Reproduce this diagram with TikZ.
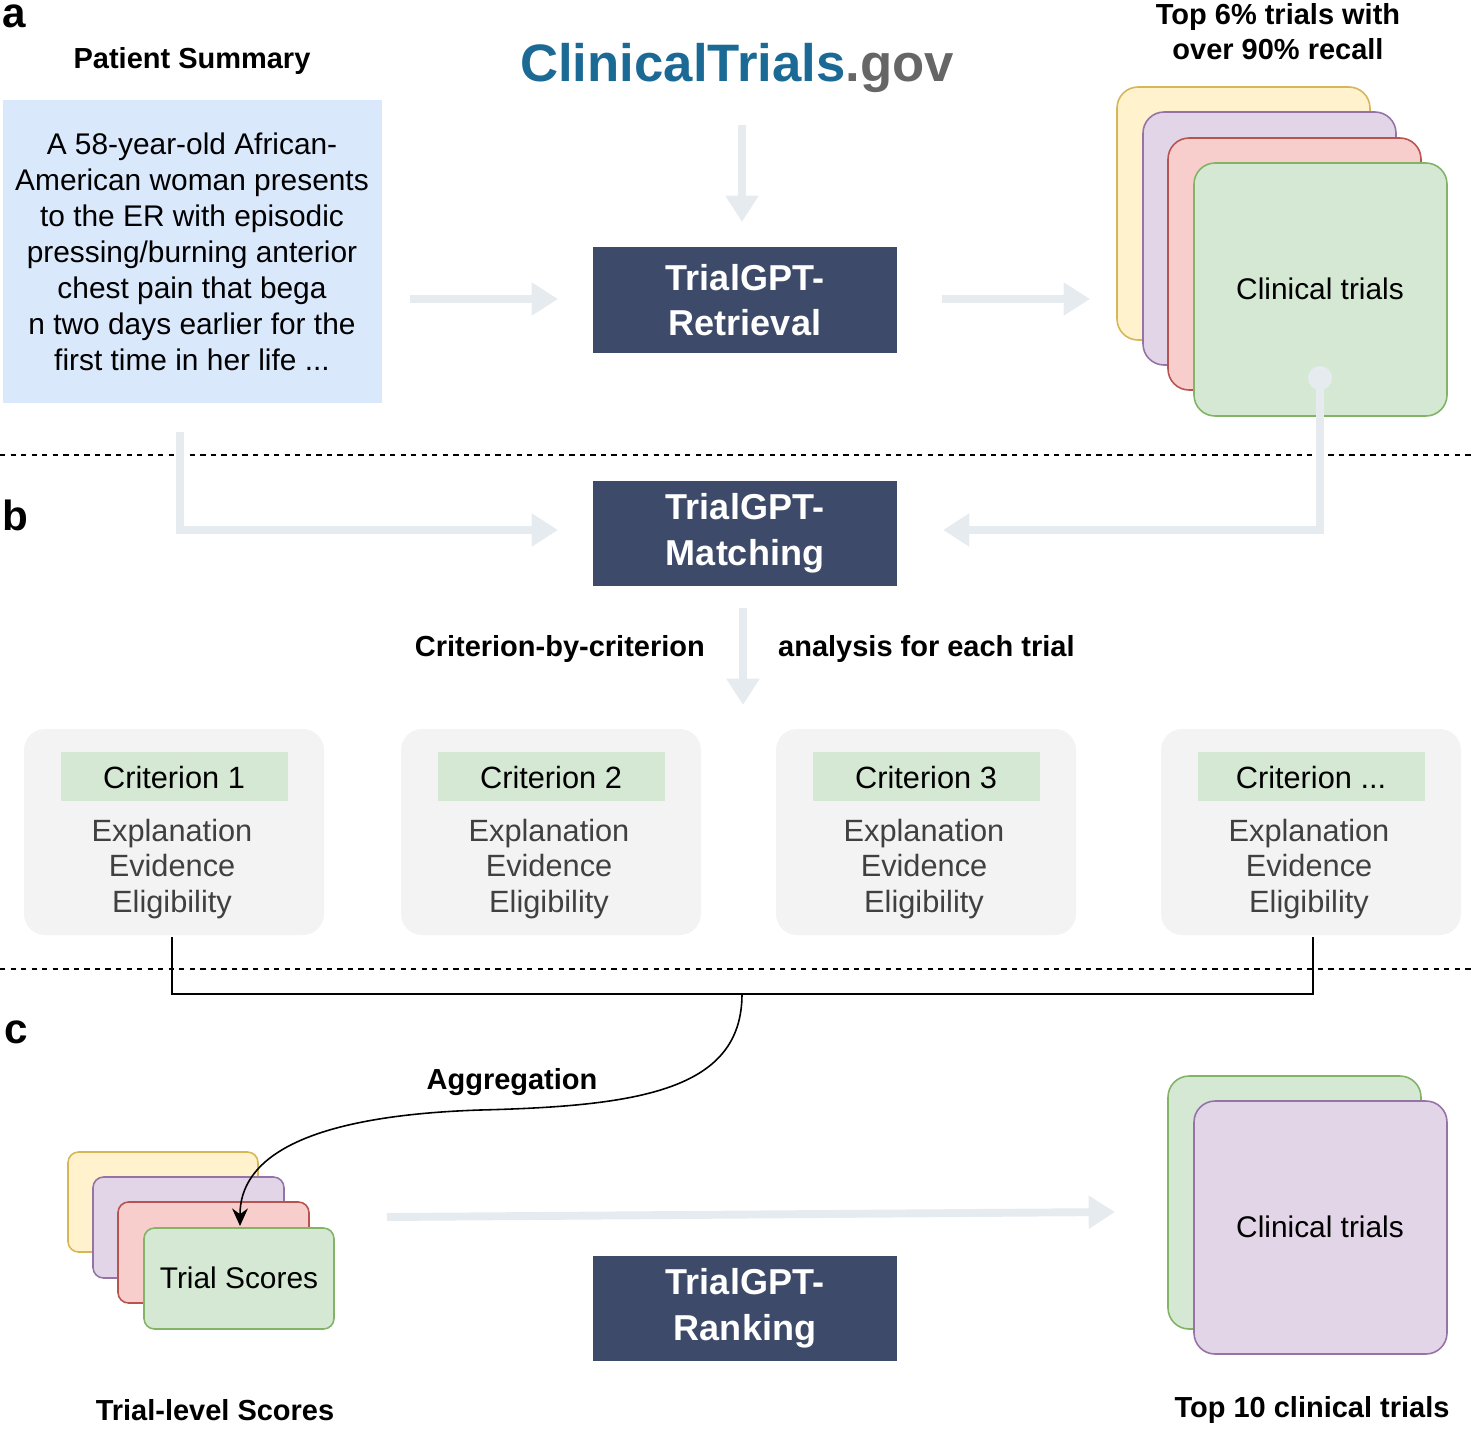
\documentclass[tikz,border=0pt]{standalone}
\usepackage{fontspec}
\setmainfont{Liberation Sans}
\usetikzlibrary{arrows.meta}
\definecolor{navy}{HTML}{3D4A69}
\definecolor{fat}{HTML}{E6EBF0}
\definecolor{bl}{HTML}{DAE8FC}
\definecolor{yf}{HTML}{FFF2CC}\definecolor{yd}{HTML}{D6B656}
\definecolor{pf}{HTML}{E1D5E7}\definecolor{pd}{HTML}{9673A6}
\definecolor{rf}{HTML}{F8CECC}\definecolor{rd}{HTML}{B85450}
\definecolor{gf}{HTML}{D5E8D4}\definecolor{gd}{HTML}{82B366}
\definecolor{ctb}{HTML}{1B6A95}
\definecolor{gbox}{HTML}{F3F3F3}
\begin{document}
\begin{tikzpicture}[x=0.02cm,y=-0.02cm,
 lab/.style={font=\bfseries\fontsize{16.5}{20}\selectfont},
 big/.style={font=\bfseries\fontsize{24}{28}\selectfont},
 dark/.style={text=white,font=\bfseries\fontsize{20.5}{26}\selectfont,align=center},
 fatarr/.style={draw=fat,line width=4.5pt,-{Triangle[length=15pt,width=18pt]}},
 card/.style={rounded corners=7pt,line width=0.9pt},
 body/.style={font=\fontsize{17}{20.5}\selectfont,align=center},
 crit/.style={font=\fontsize{17.5}{20}\selectfont,text=black!75,align=center}]
\useasboundingbox (0,0) rectangle (1471,1428);
\node[big,anchor=west] (la) at (-4,16) {a};
\node[big,anchor=west] (lb) at (-4,515) {b};
\node[big,anchor=west] (lc) at (-2,1032) {c};
\node[lab] (ps) at (192,61) {Patient Summary};
\node[lab,align=center] (top6) at (1278,32) {Top 6\% trials with\\over 90\% recall};
\fill[bl] (3,100) rectangle (382,403);
\node[body] (sum) at (192,252) {A 58-year-old African-\\American woman presents\\to the ER with episodic\\pressing/burning anterior\\chest pain that bega\\n two days earlier for the\\first time in her life ...};
\coordinate (sumB) at (180,432);
\node (logo) at (737,68) {\fontsize{30}{32}\selectfont\bfseries\textcolor{ctb}{ClinicalTrials}\textcolor{black!60}{.gov}};
\coordinate (l1) at (742,125);\coordinate (l2) at (742,222);
\draw[fatarr] (l1) -- (l2);
\fill[navy] (593,247) rectangle (897,353);
\node[dark] (ret) at (745,300) {TrialGPT-\\Retrieval};
\coordinate (a1) at (410,299);\coordinate (a2) at (558,299);
\coordinate (a3) at (942,299);\coordinate (a4) at (1090,299);
\draw[fatarr] (a1) -- (a2);\draw[fatarr] (a3) -- (a4);
\draw[card,fill=yf,draw=yd,rounded corners=12pt] (1117,87) rectangle (1370,340);
\draw[card,fill=pf,draw=pd,rounded corners=12pt] (1143,112) rectangle (1396,365);
\draw[card,fill=rf,draw=rd,rounded corners=12pt] (1168,138) rectangle (1421,390);
\draw[card,fill=gf,draw=gd,rounded corners=12pt] (1194,163) rectangle (1447,416);
\node[body] (ct1) at (1320,289) {Clinical trials};
\draw[dashed,line width=0.8pt] (0,455) -- (1471,455);
\draw[dashed,line width=0.8pt] (0,969) -- (1471,969);
\fill[navy] (593,481) rectangle (897,586);
\node[dark] (mat) at (745,533) {TrialGPT-\\Matching};
\coordinate (m1) at (558,530);\coordinate (m2) at (943,530);
\draw[fatarr] (sumB) -- (180,530) -- (m1);
\fill[fat] (1320,378) circle (12);
\coordinate (cdot) at (1320,378);
\draw[fatarr] (cdot) -- (1320,530) -- (m2);
\coordinate (d1) at (743,608);\coordinate (d2) at (743,705);
\draw[fatarr] (d1) -- (d2);
\node[lab,anchor=east] (cbc) at (711,649) {Criterion-by-criterion};
\node[lab,anchor=west] (aet) at (772,649) {analysis for each trial};
\foreach \x/\t/\n in {24/1/c1,401/2/c2,776/3/c3,1161/{...}/c4}{
 \fill[gbox,rounded corners=12pt] (\x,729) rectangle ++(300,206);
 \fill[gf] (\x+37,752) rectangle ++(227,49);
 \node[crit,text=black] (\n) at (\x+150,777) {Criterion \t};
 \node[crit] at (\x+148,869) {Explanation\\Evidence\\Eligibility};
}
\coordinate (j1) at (172,937);\coordinate (j2) at (1313,937);\coordinate (jm) at (742,994);
\draw[line width=0.9pt] (j1) -- (172,994) -- (1313,994) -- (j2);
\node[lab] (agg) at (512,1082) {Aggregation};
\draw[card,fill=yf,draw=yd,rounded corners=6pt] (68,1152) rectangle (258,1252);
\draw[card,fill=pf,draw=pd,rounded corners=6pt] (93,1177) rectangle (284,1278);
\draw[card,fill=rf,draw=rd,rounded corners=6pt] (118,1202) rectangle (309,1303);
\draw[card,fill=gf,draw=gd,rounded corners=6pt] (144,1228) rectangle (334,1329);
\node[body] (ts) at (239,1278) {Trial Scores};
\coordinate (tsT) at (240,1226);
\draw[line width=0.9pt,-{Stealth[length=10pt,width=9pt]}] (jm) .. controls (742,1090) and (640,1106) .. (480,1110) .. controls (300,1116) and (240,1160) .. (tsT);
\coordinate (r1) at (387,1217);\coordinate (r2) at (1115,1212);
\draw[fatarr] (r1) -- (r2);
\fill[navy] (593,1256) rectangle (897,1361);
\node[dark] (rank) at (745,1308) {TrialGPT-\\Ranking};
\draw[card,fill=gf,draw=gd,rounded corners=12pt] (1168,1076) rectangle (1421,1329);
\draw[card,fill=pf,draw=pd,rounded corners=12pt] (1194,1101) rectangle (1447,1354);
\node[body] (ct2) at (1320,1227) {Clinical trials};
\node[lab] (tls) at (215,1410) {Trial-level Scores};
\node[lab] (t10) at (1312,1410) {Top 10 clinical trials};
\end{tikzpicture}
\end{document}
